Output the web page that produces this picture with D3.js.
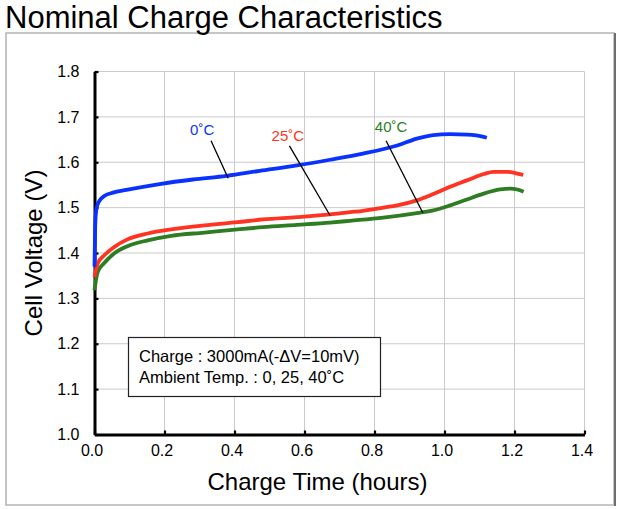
<!DOCTYPE html>
<html><head><meta charset="utf-8">
<script src="https://cdn.jsdelivr.net/npm/d3@7/dist/d3.min.js"></script>
<style>body{margin:0;background:#fff}svg{display:block;font-family:"Liberation Sans",Arial,sans-serif}</style>
</head><body>
<svg id="c" width="618" height="509"></svg>
<script>
// ---- data ----
const title = "Nominal Charge Characteristics";
const xTicks = [0.0, 0.2, 0.4, 0.6, 0.8, 1.0, 1.2, 1.4];
const yTicks = [1.0, 1.1, 1.2, 1.3, 1.4, 1.5, 1.6, 1.7, 1.8];

const t0C = [0, 0.002, 0.005, 0.009, 0.016, 0.029, 0.053, 0.091, 0.186, 0.281, 0.377, 0.472, 0.578, 0.673, 0.767, 0.865, 0.921, 0.968, 1.016, 1.064, 1.112, 1.121];
const v0C = [1.37, 1.46, 1.495, 1.507, 1.517, 1.526, 1.533, 1.539, 1.552, 1.562, 1.570, 1.581, 1.593, 1.6055, 1.619, 1.637, 1.652, 1.660, 1.662, 1.661, 1.656, 1.654];

const t25C = [0, 0.009, 0.028, 0.056, 0.094, 0.152, 0.219, 0.314, 0.409, 0.481, 0.578, 0.673, 0.730, 0.767, 0.825, 0.865, 0.921, 0.968, 1.016, 1.064, 1.112, 1.140, 1.180, 1.208, 1.225];
const v25C = [1.347, 1.377, 1.395, 1.413, 1.430, 1.443, 1.452, 1.461, 1.468, 1.474, 1.479, 1.485, 1.490, 1.493, 1.500, 1.505, 1.516, 1.530, 1.546, 1.560, 1.574, 1.579, 1.579, 1.575, 1.572];

const t40C = [0, 0.009, 0.028, 0.056, 0.094, 0.152, 0.219, 0.314, 0.409, 0.481, 0.578, 0.673, 0.730, 0.825, 0.921, 0.968, 1.016, 1.064, 1.112, 1.159, 1.188, 1.208, 1.226];
const v40C = [1.318, 1.358, 1.378, 1.399, 1.415, 1.428, 1.438, 1.445, 1.452, 1.457, 1.462, 1.467, 1.471, 1.478, 1.488, 1.494, 1.505, 1.518, 1.531, 1.540, 1.542, 1.540, 1.535];

const seriesNames = ["0˚C", "25˚C", "40˚C"];
const seriesColors = ["#0a32ff", "#ff3322", "#2e7d22"];
// label anchor (t,V) and leader line endpoints (t,V)
const labelAt = [[0.273, 1.661], [0.506, 1.646], [0.801, 1.667]];
const leaderFrom = [[0.333, 1.6475], [0.557, 1.636], [0.833, 1.6475]];
const leaderTo = [[0.382, 1.5646], [0.673, 1.4826], [0.938, 1.4888]];

const legendLines = ["Charge : 3000mA(-ΔV=10mV)", "Ambient Temp. : 0, 25, 40˚C"];
const xTitle = "Charge Time (hours)";
const yTitle = "Cell Voltage (V)";

// ---- layout ----
const svg = d3.select("#c");
const L = 94.5, R = 584.5, T = 71.5, B = 434.5;
const x = d3.scaleLinear().domain([0, 1.4]).range([L, R]);
const y = d3.scaleLinear().domain([1.0, 1.8]).range([B, T]);

// outer frame
svg.append("rect").attr("x", 6).attr("y", 33).attr("width", 608).attr("height", 472)
  .attr("fill", "#fff").attr("stroke", "#b4b4b4").attr("stroke-width", 1.5);
svg.append("line").attr("x1", 615).attr("x2", 615).attr("y1", 33).attr("y2", 506)
  .attr("stroke", "#6e6e6e").attr("stroke-width", 2);

// title
svg.append("text").attr("x", 5).attr("y", 28).attr("font-size", 31).attr("fill", "#000").text(title);

// grid
const g = svg.append("g");
g.selectAll(".vg").data(xTicks.slice(1)).enter().append("line")
  .attr("x1", d => x(d)).attr("x2", d => x(d)).attr("y1", T).attr("y2", B)
  .attr("stroke", "#cacaca").attr("stroke-width", 1);
g.selectAll(".hg").data(yTicks.slice(1)).enter().append("line")
  .attr("x1", L).attr("x2", R).attr("y1", d => y(d)).attr("y2", d => y(d))
  .attr("stroke", "#cacaca").attr("stroke-width", 1);

// axes
const xAxis = d3.axisBottom(x).tickValues(xTicks).tickSizeInner(-4).tickSizeOuter(0).tickPadding(18)
  .tickFormat(d3.format(".1f"));
const yAxis = d3.axisLeft(y).tickValues(yTicks).tickSizeInner(-4).tickSizeOuter(0).tickPadding(18)
  .tickFormat(d3.format(".1f"));
const gx = svg.append("g").attr("transform", `translate(0,${B})`).call(xAxis);
const gy = svg.append("g").attr("transform", `translate(${L},0)`).call(yAxis);
[gx, gy].forEach(a => {
  a.select(".domain").attr("stroke", "#000").attr("stroke-width", 3);
  a.selectAll(".tick line").attr("stroke", "#000").attr("stroke-width", 2.2);
  a.selectAll(".tick text").attr("font-size", 16).attr("fill", "#000")
    .attr("font-family", '"Liberation Sans",Arial,sans-serif');
});
gx.selectAll(".tick text").attr("dx", -3).attr("dy", "0.35em").attr("y", 16);
gy.selectAll(".tick text").attr("x", -15);

// curves
const line = d3.line().x(d => x(d[0])).y(d => y(d[1])).curve(d3.curveMonotoneX);
const series = [d3.zip(t0C, v0C), d3.zip(t25C, v25C), d3.zip(t40C, v40C)];
// draw green, red, blue order (blue on top)
[2, 1, 0].forEach(i => {
  svg.append("path").attr("d", line(series[i])).attr("fill", "none")
    .attr("stroke", seriesColors[i]).attr("stroke-width", 3.8).attr("stroke-linejoin", "round");
});

// labels + leaders
seriesNames.forEach((n, i) => {
  svg.append("line").attr("x1", x(leaderFrom[i][0])).attr("y1", y(leaderFrom[i][1]))
    .attr("x2", x(leaderTo[i][0])).attr("y2", y(leaderTo[i][1]))
    .attr("stroke", "#000").attr("stroke-width", 1.3);
  svg.append("text").attr("x", x(labelAt[i][0])).attr("y", y(labelAt[i][1]))
    .attr("font-size", 15).attr("fill", seriesColors[i]).text(n);
});

// legend box
svg.append("rect").attr("x", 128.5).attr("y", 337.5).attr("width", 252).attr("height", 59)
  .attr("fill", "#fff").attr("stroke", "#222").attr("stroke-width", 1.2);
legendLines.forEach((s, i) => {
  svg.append("text").attr("x", 139).attr("y", 362 + i * 21).attr("font-size", 16.5).attr("fill", "#000").text(s);
});

// axis titles
svg.append("text").attr("x", (L + R) / 2 - 22).attr("y", 490).attr("text-anchor", "middle")
  .attr("font-size", 24).attr("fill", "#000").text(xTitle);
svg.append("text").attr("transform", `translate(42,${(T + B) / 2}) rotate(-90)`).attr("text-anchor", "middle")
  .attr("font-size", 24).attr("fill", "#000").text(yTitle);
</script>
</body></html>
